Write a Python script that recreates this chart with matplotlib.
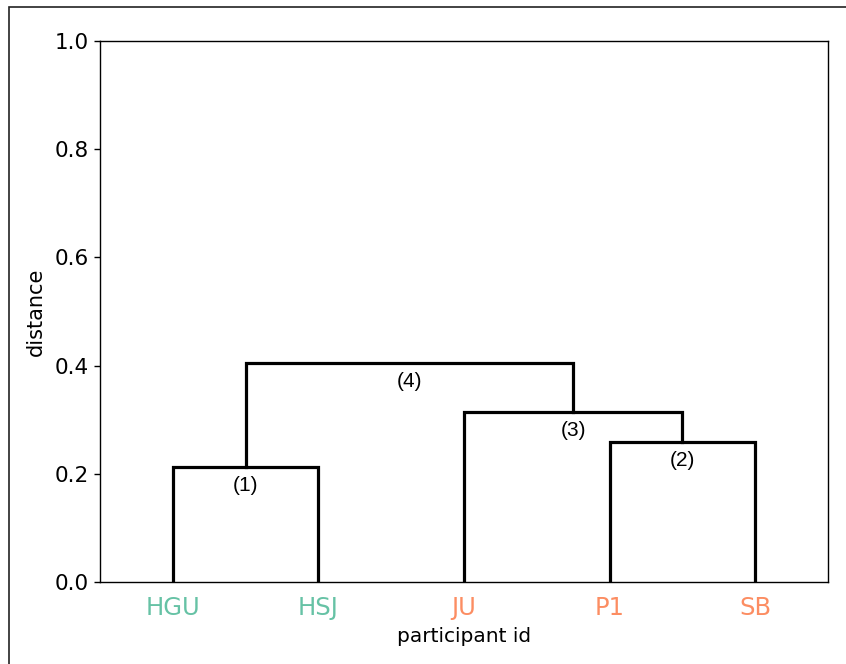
import matplotlib
matplotlib.use('Agg')
import matplotlib.pyplot as plt
from matplotlib.patches import Rectangle

# ---- data ----
leaves = ['HGU', 'HSJ', 'JU', 'P1', 'SB']
leaf_colors = ['#66c2a5', '#66c2a5', '#fc8d62', '#fc8d62', '#fc8d62']
# merges: (child a, child b, distance); new node ids start at len(leaves)
merges = [
    (0, 1, 0.213),
    (3, 4, 0.259),
    (2, 6, 0.314),
    (5, 7, 0.405),
]
merge_labels = ['(1)', '(2)', '(3)', '(4)']

fig = plt.figure(figsize=(8.46, 6.64), dpi=100)
ax = fig.add_axes([100 / 846, 1 - 582 / 664, 728 / 846, 541 / 664])

# leaf positions like scipy: 5, 15, 25, ...
xpos = {i: 5 + 10 * i for i in range(len(leaves))}
ypos = {i: 0.0 for i in range(len(leaves))}

for k, (a, b, d) in enumerate(merges):
    node = len(leaves) + k
    xa, xb = xpos[a], xpos[b]
    ax.plot([xa, xa, xb, xb], [ypos[a], d, d, ypos[b]],
            color='black', linewidth=2.3, solid_joinstyle='miter')
    xpos[node] = (xa + xb) / 2
    ypos[node] = d
    ax.annotate(merge_labels[k], xy=(xpos[node], d), xytext=(0, -6.5),
                textcoords='offset points', ha='center', va='top',
                fontsize=15, family='Liberation Sans')

ax.set_xlim(0, 10 * len(leaves))
ax.set_ylim(0, 1.0)
ax.set_xticks([xpos[i] for i in range(len(leaves))])
ax.set_xticklabels(leaves, fontsize=17.5)
for lbl, c in zip(ax.get_xticklabels(), leaf_colors):
    lbl.set_color(c)
ax.tick_params(axis='x', length=0, pad=10)
ax.tick_params(axis='y', labelsize=15.5, width=1.0, length=4.5)
for s in ax.spines.values():
    s.set_linewidth(1.0)
ax.set_xlabel('participant id', fontsize=14.5, labelpad=5)
ax.set_ylabel('distance', fontsize=15, labelpad=6)

# figure frame
fig.patches.append(Rectangle((8.5 / 846, -0.1), 1.2, 1.1 - 7.5 / 664,
                             transform=fig.transFigure, fill=False,
                             edgecolor='#222222', linewidth=1.2))

fig.savefig('out.png', dpi=100)
